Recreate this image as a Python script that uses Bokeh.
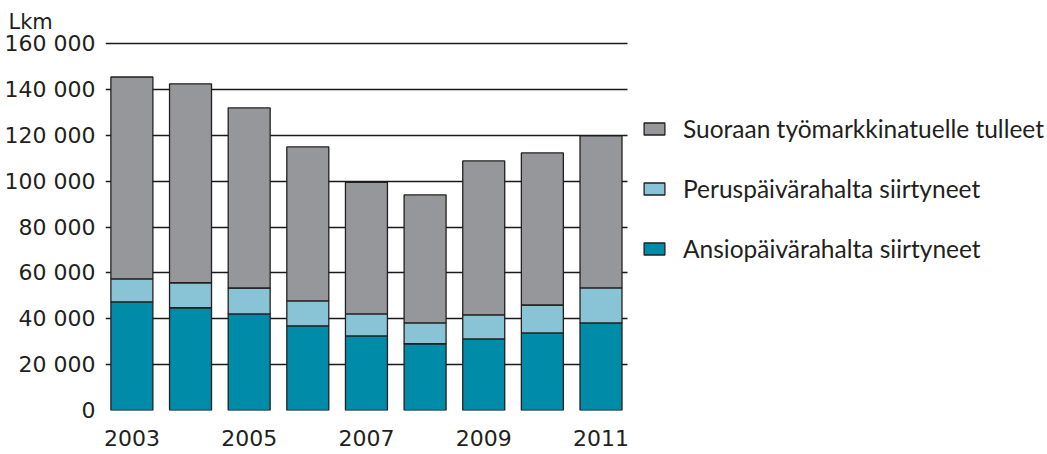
from bokeh.plotting import figure
from bokeh.models import Range1d, Legend, LegendItem, FixedTicker, ColumnDataSource
from bokeh.embed import file_html
from bokeh.resources import INLINE

years = [2003, 2004, 2005, 2006, 2007, 2008, 2009, 2010, 2011]
ansio = [47400, 44800, 42100, 36900, 32500, 29100, 31200, 33800, 38200]
perus = [10000, 10900, 11300, 10900, 9600, 9100, 10500, 12200, 15300]
suoraan = [88000, 86700, 78500, 67100, 57400, 55800, 67100, 66300, 66200]

series_names = ["Ansiopäivärahalta siirtyneet", "Peruspäivärahalta siirtyneet",
                "Suoraan työmarkkinatuelle tulleet"]
colors = ["#008ca9", "#88c4d6", "#96979b"]
yticks = [0, 20000, 40000, 60000, 80000, 100000, 120000, 140000, 160000]
ytick_labels = ["0", "20 000", "40 000", "60 000", "80 000", "100 000", "120 000", "140 000", "160 000"]
xtick_labels = {0: "2003", 2: "2005", 4: "2007", 6: "2009", 8: "2011"}

AXFONT = "DejaVu Sans"
FONT = "Lato"

src = ColumnDataSource(dict(x=list(range(len(years))), ansio=ansio, perus=perus, suoraan=suoraan))

p = figure(width=1045, height=452, output_backend="svg", toolbar_location=None,
           x_range=Range1d(-0.45, 15.58), y_range=Range1d(0, 160872),
           min_border_left=105, min_border_right=0, min_border_top=41, min_border_bottom=42)
p.outline_line_color = None
p.background_fill_color = "white"
p.border_fill_color = "white"

rs = p.vbar_stack(["ansio", "perus", "suoraan"], x="x", width=0.716, source=src,
                  color=colors, line_color="#231f20", line_width=1.3)

p.xgrid.visible = False
p.ygrid.grid_line_color = "#1a1a1a"
p.ygrid.grid_line_width = 1.3
p.ygrid.ticker = FixedTicker(ticks=yticks)
p.ygrid.cross_bounds = (-0.45, 8.46)

p.yaxis.ticker = FixedTicker(ticks=yticks)
p.yaxis.major_label_overrides = {t: l for t, l in zip(yticks, ytick_labels)}
p.yaxis.axis_line_color = None
p.yaxis.major_tick_line_color = None
p.yaxis.minor_tick_line_color = None
p.yaxis.major_label_text_font = AXFONT
p.yaxis.major_label_text_font_size = "22px"
p.yaxis.major_label_text_color = "#231f20"
p.yaxis.major_label_standoff = 4

p.xaxis.ticker = FixedTicker(ticks=list(xtick_labels.keys()))
p.xaxis.major_label_overrides = xtick_labels
p.xaxis.axis_line_color = None
p.xaxis.major_tick_line_color = None
p.xaxis.minor_tick_line_color = None
p.xaxis.major_label_text_font = AXFONT
p.xaxis.major_label_text_font_size = "22px"
p.xaxis.major_label_text_color = "#231f20"
p.xaxis.major_label_standoff = 13

p.title.text = "Lkm"
p.title.align = "left"
p.title.offset = -97
p.title.standoff = 15
p.title.text_font = AXFONT
p.title.text_font_size = "21px"
p.title.text_font_style = "normal"
p.title.text_color = "#231f20"

legend = Legend(items=[LegendItem(label=series_names[2], renderers=[rs[2]]),
                       LegendItem(label=series_names[1], renderers=[rs[1]]),
                       LegendItem(label=series_names[0], renderers=[rs[0]])],
                location=(536, 147), orientation="vertical",
                border_line_color=None, background_fill_alpha=0, padding=0, margin=0,
                glyph_width=26, glyph_height=15, label_height=24, spacing=31,
                label_standoff=16, label_text_font=FONT, label_text_font_size="24.5px",
                label_text_color="#231f20")
p.add_layout(legend)

open("out.html", "w").write(file_html(p, INLINE))
